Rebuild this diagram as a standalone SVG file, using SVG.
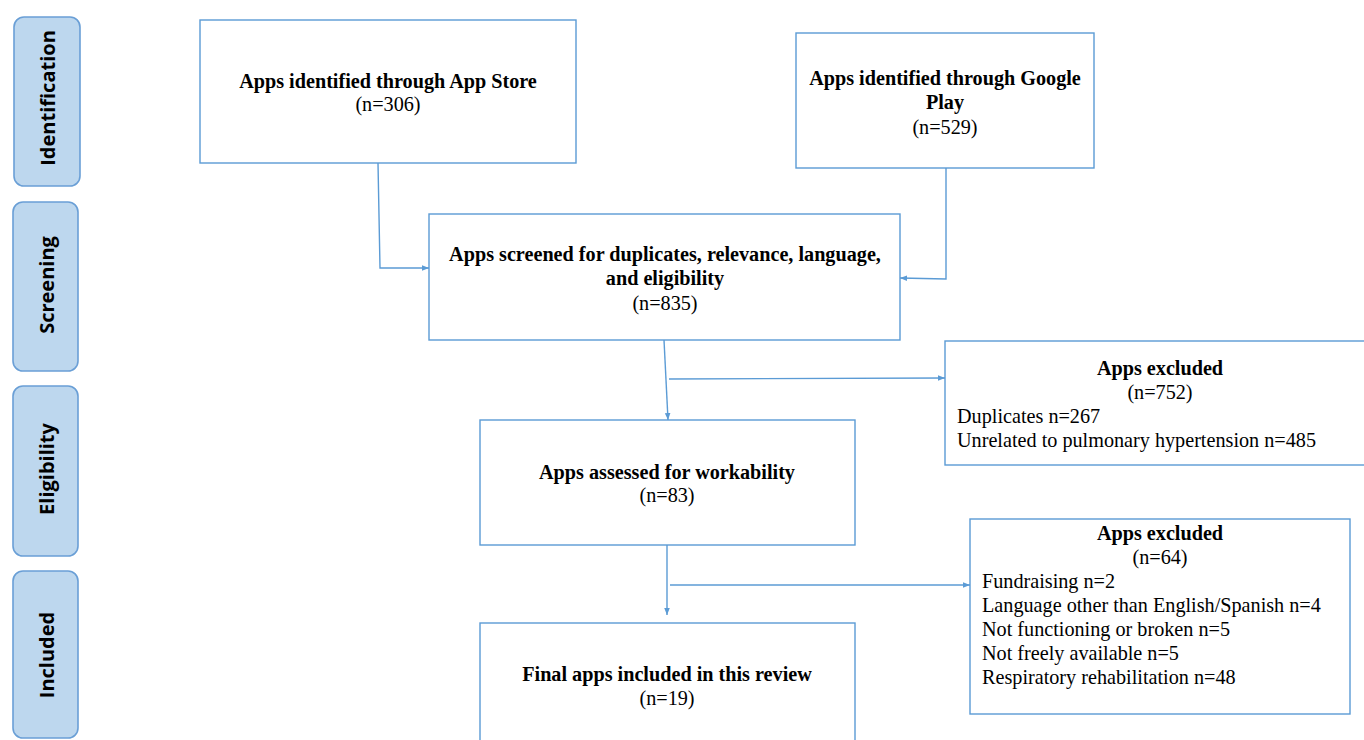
<svg xmlns="http://www.w3.org/2000/svg" width="1364" height="740" viewBox="0 0 1364 740">
  <style>
    .stage rect { fill: #bdd7ee; stroke: #6a9fd6; stroke-width: 1.6; }
    .stage text { font-family: "Open Sans", "Liberation Sans", sans-serif; font-weight: bold; font-size: 20px; fill: #000; text-anchor: middle; dominant-baseline: central; }
    .box rect { fill: #fff; stroke: #5b9bd5; stroke-width: 1.4; }
    .box text { font-family: "Liberation Serif", "Times New Roman", serif; font-size: 20.2px; fill: #000; }
    .box .t { font-weight: bold; }
    .c { text-anchor: middle; }
    .conn path { fill: none; stroke: #5b9bd5; stroke-width: 1.4; }
  </style>
  <defs>
    <marker id="arrow" viewBox="0 0 10 10" refX="10" refY="5" markerWidth="7" markerHeight="7" markerUnits="userSpaceOnUse" orient="auto">
      <path d="M0,1 L10,5 L0,9 Z" fill="#5b9bd5"/>
    </marker>
  </defs>
  <rect width="1364" height="740" fill="#fff"/>

  <!-- stage labels -->
  <g id="stage-identification" class="stage">
    <rect x="14" y="17" width="66" height="169" rx="10"/>
    <text transform="translate(47 98) rotate(-90)">Identification</text>
  </g>
  <g id="stage-screening" class="stage">
    <rect x="13" y="202" width="65" height="169" rx="10"/>
    <text transform="translate(46 285) rotate(-90)">Screening</text>
  </g>
  <g id="stage-eligibility" class="stage">
    <rect x="13" y="386" width="65" height="170" rx="10"/>
    <text transform="translate(46 469) rotate(-90)">Eligibility</text>
  </g>
  <g id="stage-included" class="stage">
    <rect x="13" y="571" width="65" height="167" rx="10"/>
    <text transform="translate(46 655) rotate(-90)">Included</text>
  </g>

  <!-- connectors -->
  <g id="connectors" class="conn">
    <path d="M378,163 L380,268 L429,268" marker-end="url(#arrow)"/>
    <path d="M946,168 L946,279 L900,278" marker-end="url(#arrow)"/>
    <path d="M664,340 L668,420" marker-end="url(#arrow)"/>
    <path d="M669,379 L945,378" marker-end="url(#arrow)"/>
    <path d="M667,545 L667,615" marker-end="url(#arrow)"/>
    <path d="M670,585 L970,585" marker-end="url(#arrow)"/>
  </g>

  <!-- flow boxes -->
  <g id="app-store" class="box">
    <rect x="200" y="20" width="376" height="143"/>
    <text class="t c" x="388" y="88">Apps identified through App Store</text>
    <text class="c" x="388" y="111">(n=306)</text>
  </g>
  <g id="google-play" class="box">
    <rect x="796" y="33" width="298" height="135"/>
    <text class="t c" x="945" y="85">Apps identified through Google</text>
    <text class="t c" x="945" y="109">Play</text>
    <text class="c" x="945" y="134">(n=529)</text>
  </g>
  <g id="screened" class="box">
    <rect x="429" y="214" width="471" height="126"/>
    <text class="t c" x="665" y="261">Apps screened for duplicates, relevance, language,</text>
    <text class="t c" x="665" y="285">and eligibility</text>
    <text class="c" x="665" y="310">(n=835)</text>
  </g>
  <g id="excluded-screening" class="box">
    <rect x="945" y="341" width="421" height="124"/>
    <text class="t c" x="1160" y="375">Apps excluded</text>
    <text class="c" x="1160" y="399">(n=752)</text>
    <text x="957" y="423">Duplicates n=267</text>
    <text x="957" y="447">Unrelated to pulmonary hypertension n=485</text>
  </g>
  <g id="workability" class="box">
    <rect x="480" y="420" width="375" height="125"/>
    <text class="t c" x="667" y="479">Apps assessed for workability</text>
    <text class="c" x="667" y="502">(n=83)</text>
  </g>
  <g id="excluded-eligibility" class="box">
    <rect x="970" y="519" width="380" height="195"/>
    <text class="t c" x="1160" y="540">Apps excluded</text>
    <text class="c" x="1160" y="564">(n=64)</text>
    <text x="982" y="588">Fundraising n=2</text>
    <text x="982" y="612">Language other than English/Spanish n=4</text>
    <text x="982" y="636">Not functioning or broken n=5</text>
    <text x="982" y="660">Not freely available n=5</text>
    <text x="982" y="684">Respiratory rehabilitation n=48</text>
  </g>
  <g id="final" class="box">
    <rect x="480" y="623" width="375" height="130"/>
    <text class="t c" x="667" y="681">Final apps included in this review</text>
    <text class="c" x="667" y="705">(n=19)</text>
  </g>
</svg>
